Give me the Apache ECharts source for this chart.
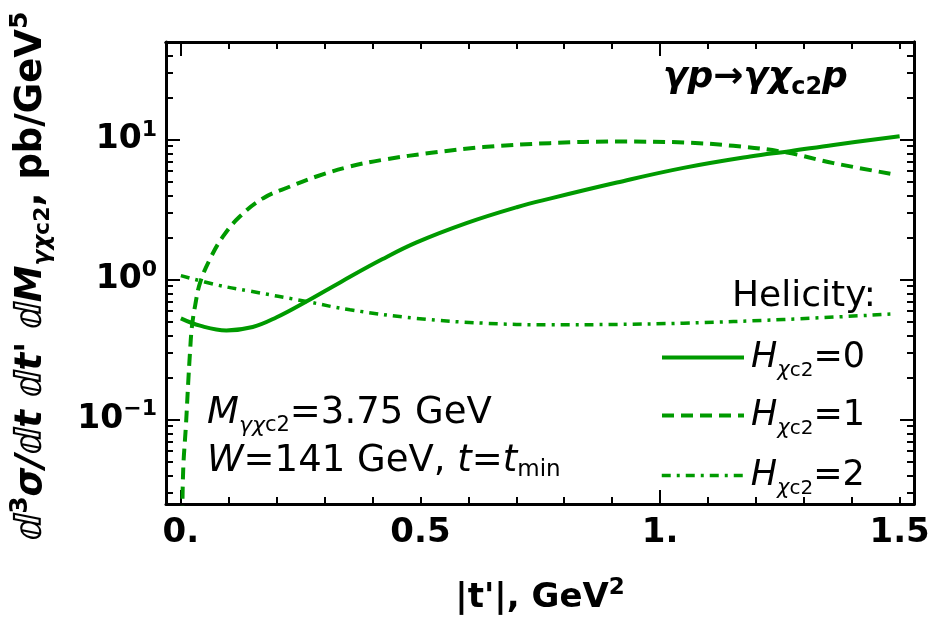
<!DOCTYPE html>
<html>
<head>
<meta charset="utf-8">
<script src="https://cdn.jsdelivr.net/npm/echarts@6/dist/echarts.min.js"></script>
<style>
html, body { margin: 0; padding: 0; background: #fff; }
#chart { width: 932px; height: 621px; }
</style>
</head>
<body>
<div id="chart"></div>
<script>
// |t'| values and d3sigma values (log y axis)
var h0T = [0, 0.04, 0.095, 0.15, 0.2, 0.262, 0.335, 0.42, 0.492, 0.596, 0.701, 0.77, 0.91, 1.049, 1.188, 1.271, 1.362, 1.5];
var h0V = [0.53, 0.47, 0.435, 0.46, 0.54, 0.70, 0.97, 1.4, 1.85, 2.54, 3.3, 3.8, 4.95, 6.3, 7.6, 8.3, 9.2, 10.6];

var h1T = [0.003, 0.005, 0.0105, 0.0152, 0.019, 0.023, 0.03, 0.04, 0.06, 0.088, 0.123, 0.172, 0.228, 0.283, 0.353, 0.422, 0.527, 0.631, 0.77, 0.91, 1.049, 1.153, 1.257, 1.362, 1.494];
var h1V = [0.02, 0.045, 0.09, 0.18, 0.3, 0.46, 0.66, 0.95, 1.39, 2.04, 2.83, 3.83, 4.64, 5.47, 6.45, 7.2, 8.11, 8.87, 9.47, 9.72, 9.57, 9.06, 8.2, 6.82, 5.62];

var h2T = [0, 0.0745, 0.144, 0.262, 0.353, 0.492, 0.631, 0.77, 0.91, 1.049, 1.257, 1.487];
var h2V = [1.07, 0.92, 0.83, 0.70, 0.61, 0.53, 0.49, 0.477, 0.48, 0.49, 0.52, 0.57];

var xMajorTicks = [0, 1];
var xMinorTicks = [0.1, 0.2, 0.3, 0.4, 0.5, 0.6, 0.7, 0.8, 0.9, 1.1, 1.2, 1.3, 1.4, 1.5];
var xLabels = [0, 0.5, 1, 1.5];
var yMajorTicks = [0.1, 1, 10];
var yMinorTicks = [0.03, 0.04, 0.05, 0.06, 0.07, 0.08, 0.09, 0.2, 0.3, 0.4, 0.5, 0.6, 0.7, 0.8, 0.9,
  2, 3, 4, 5, 6, 7, 8, 9, 20, 30, 40];

var green = '#009a00';
var font = 'DejaVu Sans';
var dash1 = [12, 7];
var dash2 = [9, 6, 3, 6];

function pairs(t, v) {
  return t.map(function (x, i) { return [x, v[i]]; });
}

var xMin = -0.031, xMax = 1.53, yMin = 0.025, yMax = 50;

function xAxisFor(pos, ticks, len, labels) {
  return {
    type: 'value', position: pos, min: xMin, max: xMax,
    axisLine: { show: labels !== undefined || pos === 'top', onZero: false, lineStyle: { color: '#000', width: 3 } },
    axisTick: { show: true, inside: true, length: len, customValues: ticks, lineStyle: { color: '#000', width: 2 } },
    axisLabel: labels ? {
      customValues: labels, margin: 12, color: '#000', fontFamily: font, fontWeight: 'bold', fontSize: 34,
      formatter: function (v) { return v === 0 ? '0.' : v === 1 ? '1.' : String(v); }
    } : { show: false },
    splitLine: { show: false }
  };
}

function yAxisFor(pos, ticks, len, labels) {
  return {
    type: 'log', logBase: 10, position: pos, min: yMin, max: yMax,
    axisLine: { show: labels !== undefined || pos === 'right', onZero: false, lineStyle: { color: '#000', width: 3 } },
    axisTick: { show: true, inside: true, length: len, customValues: ticks, lineStyle: { color: '#000', width: 2 } },
    axisLabel: labels ? {
      customValues: labels, margin: 9,
      formatter: function (v) {
        var e = Math.round(Math.log10(v));
        return '{b|10}{s|' + (e < 0 ? '\u2212' + (-e) : e) + '}';
      },
      rich: {
        b: { fontFamily: font, fontWeight: 'bold', fontSize: 33, color: '#000' },
        s: { fontFamily: font, fontWeight: 'bold', fontSize: 22, color: '#000', padding: [0, 0, 20, 0] }
      }
    } : { show: false },
    splitLine: { show: false }
  };
}

var legendRich = {
  i: { fontFamily: font, fontStyle: 'italic', fontSize: 35, color: '#000', lineHeight: 40 },
  sx: { fontFamily: font, fontStyle: 'italic', fontSize: 21, color: '#000', padding: [26, 0, 0, 0] },
  sc: { fontFamily: font, fontSize: 20, color: '#000', padding: [26, 0, 0, 0] },
  n: { fontFamily: font, fontSize: 35, color: '#000', lineHeight: 40 }
};

function legendFor(name, top, dash, width) {
  return {
    data: [name], left: 660, top: top, padding: 0,
    itemWidth: 82, itemHeight: 14, itemGap: 10, selectedMode: false,
    itemStyle: { opacity: 0 },
    lineStyle: { width: width, type: dash, color: green },
    formatter: function (n) { return '{i|H}{sx|\u03c7}{sc|c2}{n|=' + n + '}'; },
    textStyle: { rich: legendRich, padding: [0, 0, 0, 2] }
  };
}

var chart = echarts.init(document.getElementById('chart'), null, { renderer: 'canvas' });

var option = {
  animation: false,
  backgroundColor: '#fff',
  grid: { left: 166, top: 42, right: 18, bottom: 117, containLabel: false, outerBoundsMode: 'none' },
  xAxis: [
    xAxisFor('bottom', xMajorTicks, 14, xLabels),
    xAxisFor('bottom', xMinorTicks, 7),
    xAxisFor('top', xMajorTicks, 14),
    xAxisFor('top', xMinorTicks, 7)
  ],
  yAxis: [
    yAxisFor('left', yMajorTicks, 14, yMajorTicks),
    yAxisFor('left', yMinorTicks, 7),
    yAxisFor('right', yMajorTicks, 14),
    yAxisFor('right', yMinorTicks, 7)
  ],
  legend: [
    legendFor('0', 340, 'solid', 4),
    legendFor('1', 398, dash1, 4),
    legendFor('2', 458, dash2, 3.5)
  ],
  series: [
    {
      name: '0', type: 'line', data: pairs(h0T, h0V), symbol: 'none', smooth: 0.4,
      lineStyle: { color: green, width: 4 }, itemStyle: { color: green }
    },
    {
      name: '1', type: 'line', data: pairs(h1T, h1V), symbol: 'none', smooth: 0.4,
      lineStyle: { color: green, width: 4, type: dash1 }, itemStyle: { color: green }
    },
    {
      name: '2', type: 'line', data: pairs(h2T, h2V), symbol: 'none', smooth: 0.4,
      lineStyle: { color: green, width: 3.5, type: dash2 }, itemStyle: { color: green }
    }
  ],
  graphic: [
    {
      // y axis title, reading bottom to top
      type: 'text', x: 31, y: 276, rotation: Math.PI / 2,
      style: {
        text: '{b|\u2146}{sup|3}{b|\u03c3/\u2146t \u2146t\' \u2146M}{sub|\u03b3\u03c7}{subc|c2}{r|, pb/GeV}{sup|5}',
        align: 'center', verticalAlign: 'middle', textAlign: 'center', textVerticalAlign: 'middle',
        rich: {
          b: { fontFamily: font, fontWeight: 'bold', fontStyle: 'italic', fontSize: 37, fill: '#000' },
          r: { fontFamily: font, fontWeight: 'bold', fontSize: 37, fill: '#000' },
          sup: { fontFamily: font, fontWeight: 'bold', fontSize: 25, fill: '#000', padding: [0, 0, 22, 0] },
          sub: { fontFamily: font, fontWeight: 'bold', fontStyle: 'italic', fontSize: 23, fill: '#000', padding: [24, 0, 0, 0] },
          subc: { fontFamily: font, fontWeight: 'bold', fontSize: 22, fill: '#000', padding: [24, 0, 0, 0] }
        }
      }
    },
    {
      type: 'text', x: 540, y: 598,
      style: {
        text: '{b|\u007ct\'\u007c, GeV}{sup|2}',
        align: 'center', verticalAlign: 'middle', textAlign: 'center', textVerticalAlign: 'middle',
        rich: {
          b: { fontFamily: font, fontWeight: 'bold', fontSize: 34, fill: '#000' },
          sup: { fontFamily: font, fontWeight: 'bold', fontSize: 23, fill: '#000', padding: [0, 0, 20, 0] }
        }
      }
    },
    {
      type: 'text', x: 663, y: 78,
      style: {
        text: '{b|\u03b3p\u2192\u03b3\u03c7}{s|c2}{b|p}',
        align: 'left', verticalAlign: 'middle', textAlign: 'left', textVerticalAlign: 'middle',
        rich: {
          b: { fontFamily: font, fontWeight: 'bold', fontStyle: 'italic', fontSize: 36, fill: '#000' },
          s: { fontFamily: font, fontWeight: 'bold', fontSize: 24, fill: '#000', padding: [20, 0, 0, 0] }
        }
      }
    },
    {
      type: 'text', x: 876, y: 297,
      style: {
        text: 'Helicity:', fontFamily: font, fontSize: 36, fill: '#000',
        align: 'right', verticalAlign: 'middle', textAlign: 'right', textVerticalAlign: 'middle'
      }
    },
    {
      type: 'text', x: 207, y: 413,
      style: {
        text: '{i|M}{si|\u03b3\u03c7}{s|c2}{n|=3.75 GeV}',
        align: 'left', verticalAlign: 'middle', textAlign: 'left', textVerticalAlign: 'middle',
        rich: {
          i: { fontFamily: font, fontStyle: 'italic', fontSize: 37, fill: '#000' },
          si: { fontFamily: font, fontStyle: 'italic', fontSize: 22, fill: '#000', padding: [26, 0, 0, 0] },
          s: { fontFamily: font, fontSize: 21, fill: '#000', padding: [26, 0, 0, 0] },
          n: { fontFamily: font, fontSize: 37, fill: '#000' }
        }
      }
    },
    {
      type: 'text', x: 207, y: 461,
      style: {
        text: '{i|W}{n|=141 GeV, }{i|t}{n|=}{i|t}{s|min}',
        align: 'left', verticalAlign: 'middle', textAlign: 'left', textVerticalAlign: 'middle',
        rich: {
          i: { fontFamily: font, fontStyle: 'italic', fontSize: 37, fill: '#000' },
          s: { fontFamily: font, fontSize: 23, fill: '#000', padding: [18, 0, 0, 0] },
          n: { fontFamily: font, fontSize: 37, fill: '#000' }
        }
      }
    }
  ]
};

chart.setOption(option);
window.addEventListener('resize', function () {
  chart.resize();
});
</script>
</body>
</html>
